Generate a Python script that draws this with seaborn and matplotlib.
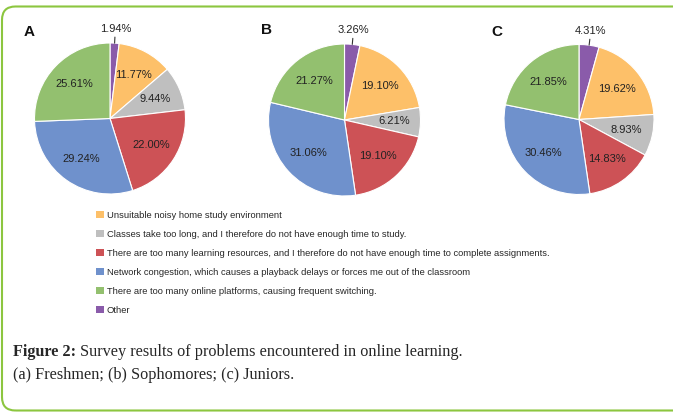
import numpy as np
import seaborn as sns
import matplotlib.pyplot as plt
from matplotlib.patches import Patch, FancyBboxPatch

sns.set_theme(style="white")
plt.rcParams['font.family'] = ['Liberation Sans', 'DejaVu Sans']

# Data (clockwise from 12 o'clock)
categories = [
    "Other",
    "Unsuitable noisy home study environment",
    "Classes take too long, and I therefore do not have enough time to study.",
    "There are too many learning resources, and I therefore do not have enough time to complete assignments.",
    "Network congestion, which causes a playback delays or forces me out of the classroom",
    "There are too many online platforms, causing frequent switching.",
]
freshmen = [1.94, 11.77, 9.44, 22.00, 29.24, 25.61]
sophomores = [3.26, 19.10, 6.21, 19.10, 31.06, 21.27]
juniors = [4.31, 19.62, 8.93, 14.83, 30.46, 21.85]
panel_letters = ["A", "B", "C"]

colors = ["#8A5BAA", "#FDC069", "#BFBFBF", "#CD5256", "#6F91CC", "#93C06F"]
sns.set_palette(colors)

W, H = 673, 412
fig = plt.figure(figsize=(W / 100, H / 100), dpi=100)

# rounded green frame (right side runs off the image)
frame = FancyBboxPatch((2 / W, 1.5 / H), 720 / W, 404 / H,
                       boxstyle="round,pad=0,rounding_size=0.02",
                       transform=fig.transFigure, fill=False,
                       edgecolor="#8CC63F", linewidth=1.5, mutation_aspect=W / H)
fig.patches.append(frame)


def pie_axes(cx, cy, r):
    s = 2.5 * r
    return fig.add_axes([(cx - s / 2) / W, 1 - (cy + s / 2) / H, s / W, s / H])


centers = [(110, 118.5, 75.5), (344.5, 120, 76), (579, 119.5, 75)]
letter_pos = [(29, 32), (267, 30), (497, 32)]

for vals, (cx, cy, r), letter, (lx, ly) in zip([freshmen, sophomores, juniors],
                                                centers, panel_letters, letter_pos):
    ax = pie_axes(cx, cy, r)
    wedges, texts, autotexts = ax.pie(
        vals, colors=colors, startangle=90, counterclock=False,
        autopct="%.2f%%", pctdistance=0.65,
        wedgeprops=dict(edgecolor="white", linewidth=0.8),
        textprops=dict(fontsize=8, color="#222222"))
    # move the small "Other" label outside with a leader line
    w0 = wedges[0]
    mid = np.deg2rad((w0.theta1 + w0.theta2) / 2)
    ux, uy = np.cos(mid), np.sin(mid)
    autotexts[0].set_position((ux * 1.15, 1.12))
    autotexts[0].set_va("bottom")
    ax.plot([ux * 1.0, ux * 1.07], [uy * 1.0, uy * 1.08], color="#333333", lw=0.8,
            clip_on=False)
    fig.text(lx / W, 1 - ly / H, letter, fontsize=11, fontweight="bold",
             ha="center", va="center", color="#111111")

# legend
order = [1, 2, 3, 4, 5, 0]
handles = [Patch(facecolor=colors[i], edgecolor="none", label=categories[i]) for i in order]
fig.legend(handles=handles, loc="upper left", bbox_to_anchor=(96 / W, 1 - 210.5 / H),
           frameon=False, fontsize=6.75, handlelength=0.8, handleheight=0.8,
           handletextpad=0.35, labelspacing=1.07, borderpad=0, borderaxespad=0)

# caption
serif = ['Liberation Serif', 'DejaVu Serif']
fs = 11.7
t1 = fig.text(13 / W, 1 - 352 / H, "Figure 2:", fontsize=fs, fontweight="bold",
              family=serif, va="center", ha="left")
fig.canvas.draw()
bb = t1.get_window_extent()
fig.text((bb.x1 + 4) / W, 1 - 352 / H, "Survey results of problems encountered in online learning.",
         fontsize=fs, family=serif, va="center", ha="left")
fig.text(13 / W, 1 - 375 / H, "(a) Freshmen; (b) Sophomores; (c) Juniors.",
         fontsize=fs, family=serif, va="center", ha="left")

fig.savefig("out.png", dpi=100)
